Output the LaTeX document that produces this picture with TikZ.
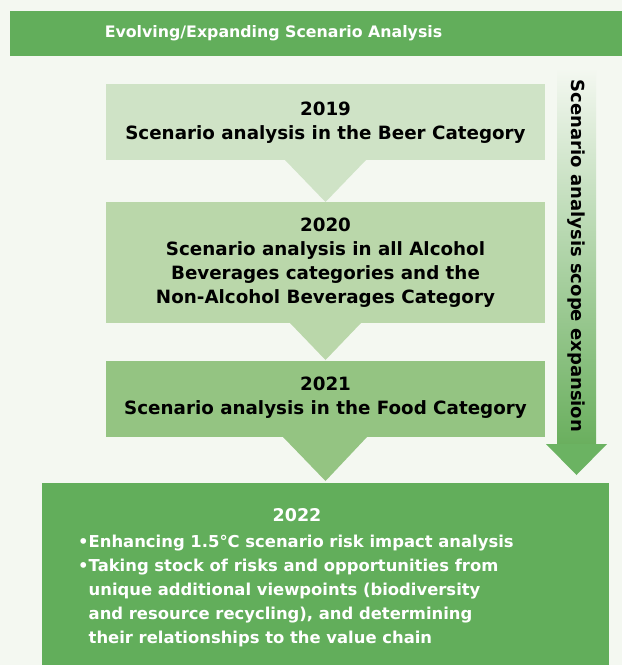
\documentclass[tikz,border=0pt]{standalone}
\usepackage{fontspec}
\setmainfont{DejaVu Sans}
\definecolor{bg}{HTML}{F4F8F1}
\definecolor{banner}{HTML}{62AE5B}
\definecolor{cA}{HTML}{CFE3C6}
\definecolor{cB}{HTML}{BAD7AA}
\definecolor{cC}{HTML}{94C482}
\definecolor{cD}{HTML}{62AE5B}
\definecolor{arrowgreen}{HTML}{6BB362}
\definecolor{arrowbot}{HTML}{6AAF5E}
\tikzset{
  yearbox/.style={fill=#1, draw=none, anchor=north west, inner sep=0pt},
  boxtext/.style={align=center, font=\bfseries\fontsize{18.3}{23.8}\selectfont, text=black},
  whitetext/.style={font=\bfseries\fontsize{16.4}{24}\selectfont, text=white},
}
\begin{document}
\begin{tikzpicture}[x=1pt,y=-1pt]
\useasboundingbox (0,0) rectangle (622,665);
\fill[bg] (0,0) rectangle (622,665);
% banner
\node[yearbox=banner, minimum width=612pt, minimum height=45pt] (banner) at (10,11) {};
\node[whitetext, font=\bfseries\fontsize{15.8}{18}\selectfont] (bannertext) at (273.5,33.5) {Evolving/Expanding Scenario Analysis};
% side arrow
\shade[top color=bg, bottom color=arrowbot] (557,68) rectangle (596,444);
\coordinate (headL) at (546,444);
\coordinate (headR) at (607,444);
\coordinate (headT) at (576.5,475);
\fill[arrowgreen] (headL) -- (headR) -- (headT) -- cycle;
\node[rotate=-90, font=\bfseries\fontsize{18}{20}\selectfont, text=black] (sidetext) at (576.5,256) {Scenario analysis scope expansion};
% boxes
\node[yearbox=cA, minimum width=439pt, minimum height=76pt] (b19) at (106,84) {};
\node[yearbox=cB, minimum width=439pt, minimum height=121pt] (b20) at (106,202) {};
\node[yearbox=cC, minimum width=439pt, minimum height=76pt] (b21) at (106,361) {};
\node[yearbox=cD, minimum width=567pt, minimum height=182pt] (b22) at (42,483) {};
% triangles
\fill[cA] (285,160) -- (366,160) -- (325.5,202) -- cycle;
\fill[cB] (290,323) -- (361,323) -- (325.5,360) -- cycle;
\fill[cC] (283,437) -- (367,437) -- (325.5,481) -- cycle;
% texts
\node[boxtext] (t19) at (325.5,122.5) {2019\\Scenario analysis in the Beer Category};
\node[boxtext] (t20) at (325.5,262.5) {2020\\Scenario analysis in all Alcohol\\Beverages categories and the\\Non-Alcohol Beverages Category};
\node[boxtext] (t21) at (325.5,398) {2021\\Scenario analysis in the Food Category};
\node[whitetext, font=\bfseries\fontsize{17.5}{24}\selectfont] (y22) at (297,515) {2022};
\node[whitetext, align=left, anchor=north west, inner sep=0pt] (t22) at (78,535) {%
•Enhancing 1.5°C scenario risk impact analysis\\
•Taking stock of risks and opportunities from\\
\phantom{•}unique additional viewpoints (biodiversity\\
\phantom{•}and resource recycling), and determining\\
\phantom{•}their relationships to the value chain};
\end{tikzpicture}
\end{document}
